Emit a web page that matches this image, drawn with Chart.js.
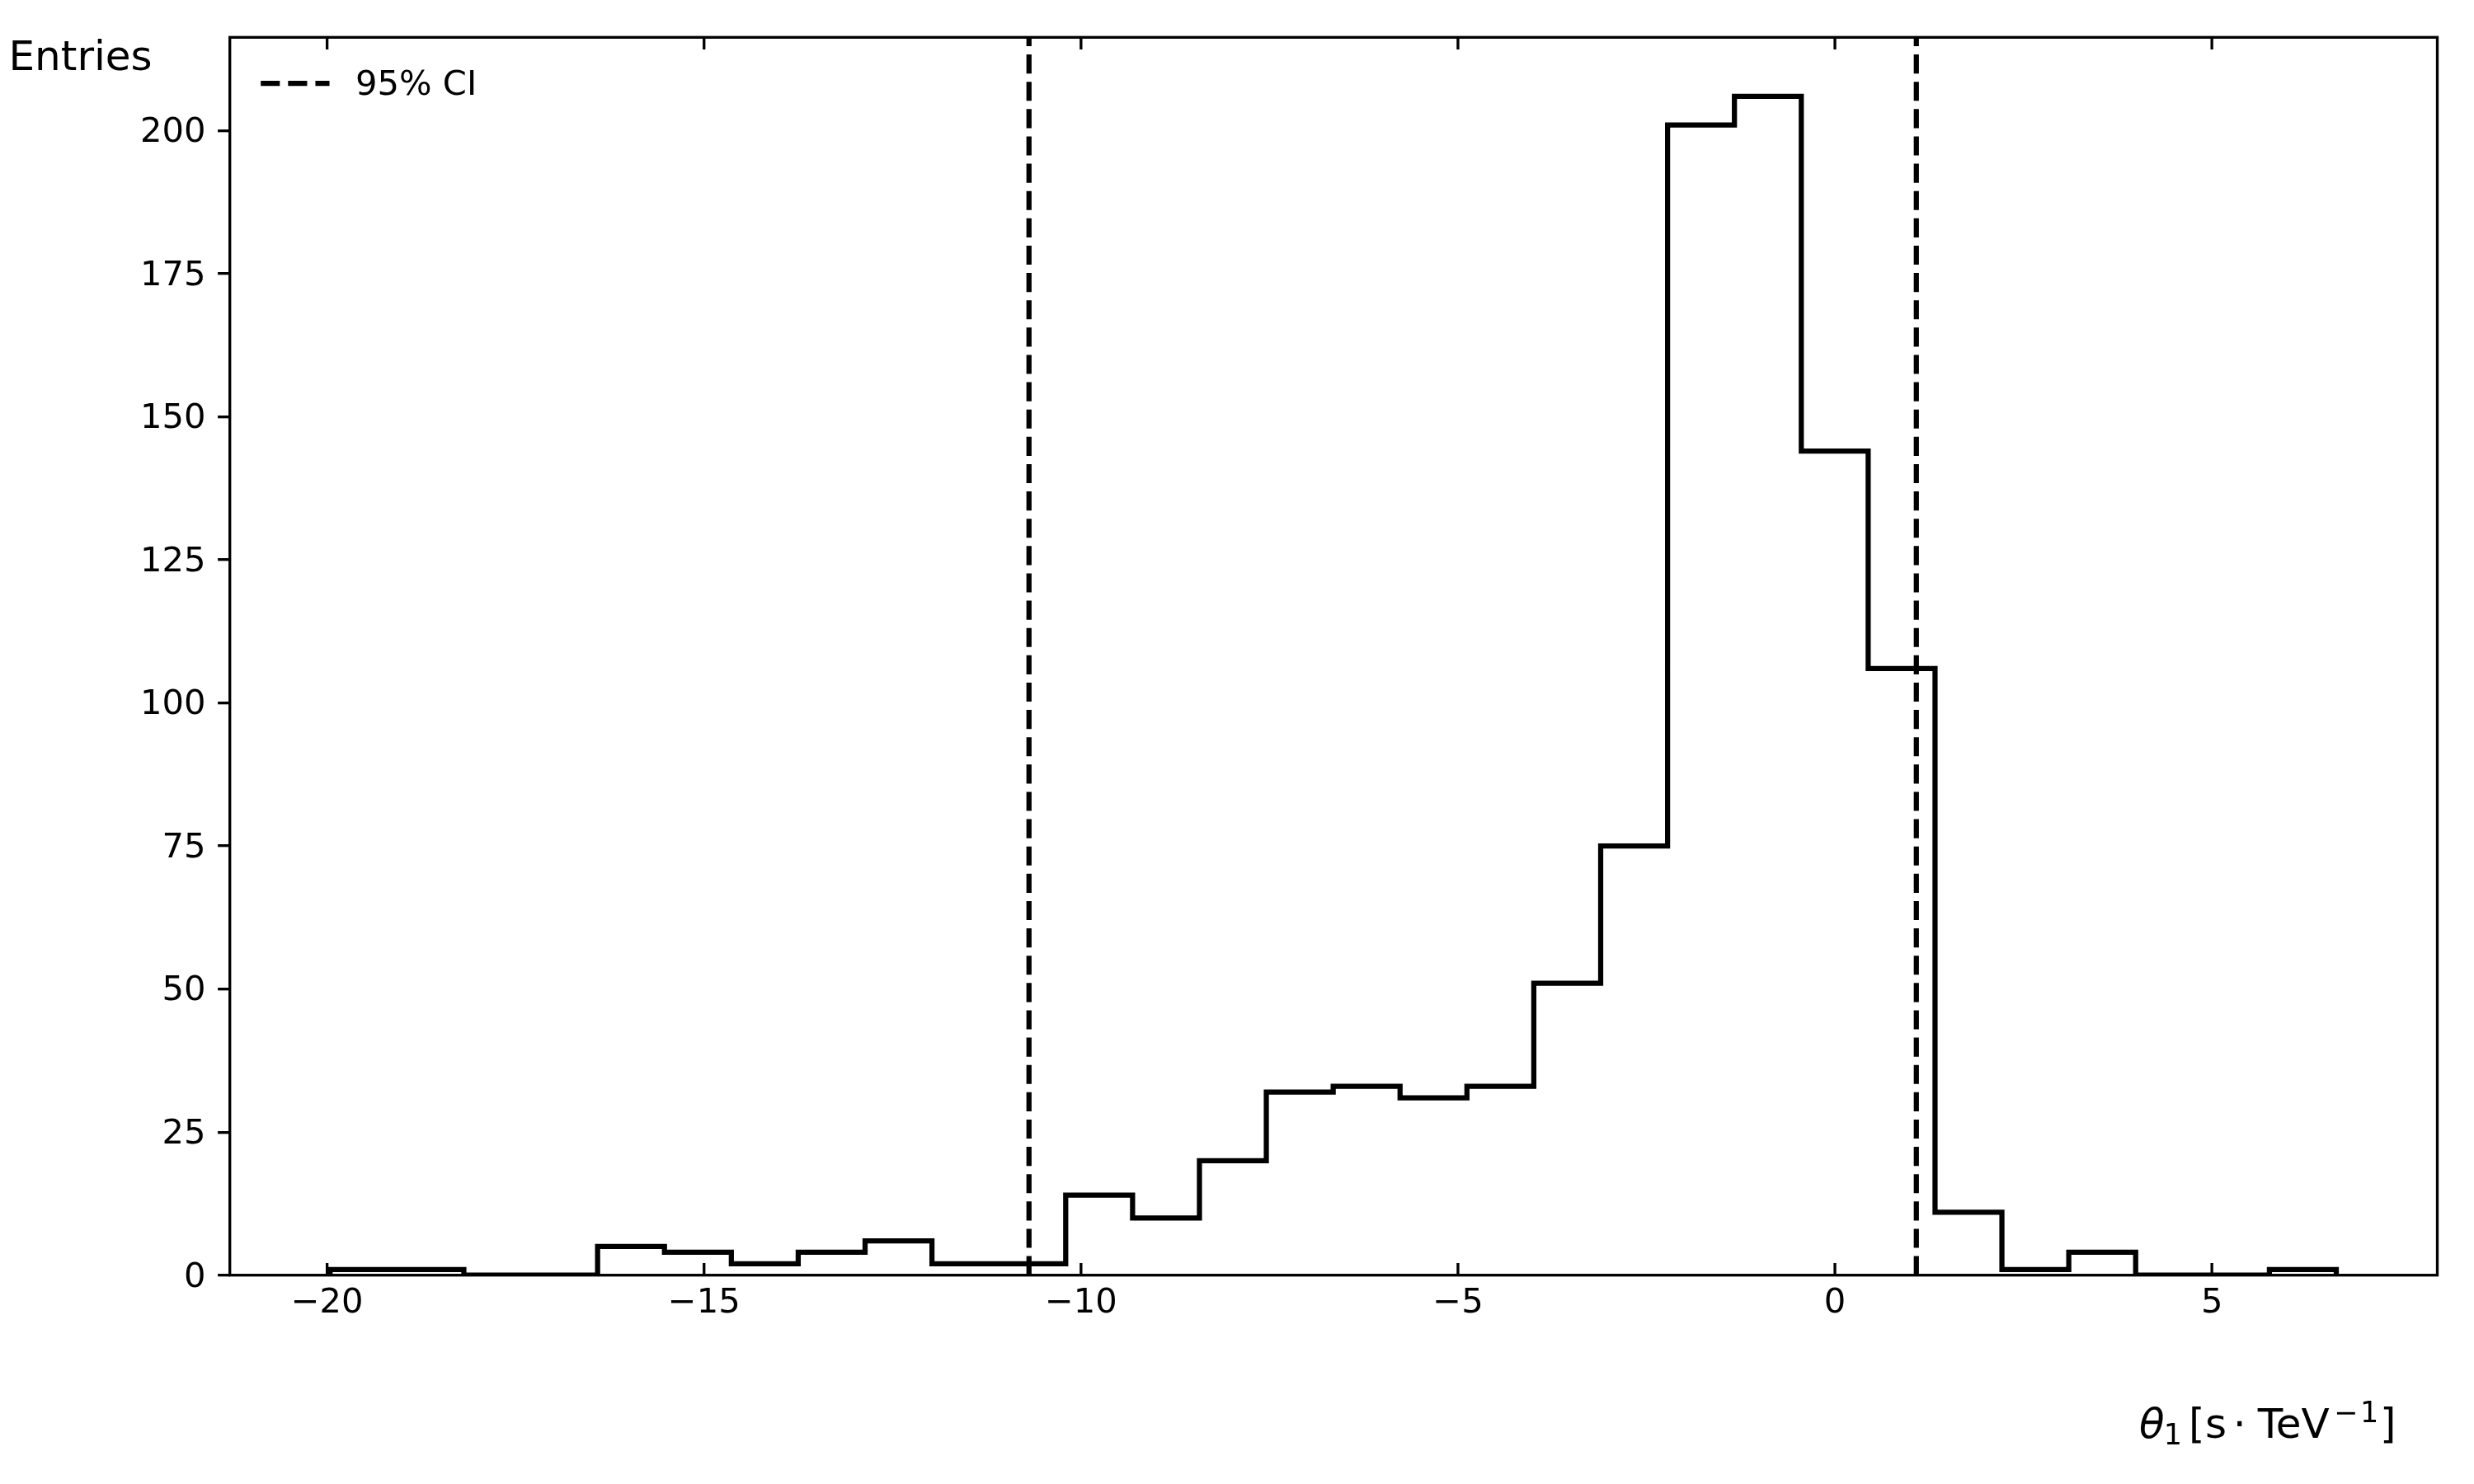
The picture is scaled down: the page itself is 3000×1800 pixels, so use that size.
<!DOCTYPE html>
<html>
<head>
<meta charset="utf-8">
<title>theta_1 histogram</title>
<script src="https://cdn.jsdelivr.net/npm/chart.js@4.4.1/dist/chart.umd.min.js"></script>
<style>
  html, body { margin: 0; padding: 0; background: #ffffff; }
  #wrap { width: 3000px; height: 1800px; position: relative; }
</style>
</head>
<body>
<div id="wrap"><canvas id="chart"></canvas></div>
<script>
// =============================================================================
// Data
// =============================================================================

// 31 bin edges -> 30 bins
const binEdges = [
  -19.960, -19.073, -18.186, -17.299, -16.412, -15.525, -14.638, -13.751,
  -12.864, -11.977, -11.090, -10.203, -9.316, -8.429, -7.542, -6.655,
  -5.768, -4.881, -3.994, -3.107, -2.220, -1.333, -0.446, 0.441,
  1.328, 2.215, 3.102, 3.989, 4.876, 5.763, 6.650,
];

// entries per bin
const binCounts = [
  1, 1, 0, 0, 5, 4, 2, 4, 6, 2,
  2, 14, 10, 20, 32, 33, 31, 33, 51, 75,
  201, 206, 144, 106, 11, 1, 4, 0, 0, 1,
];

// 95% credible interval bounds
const ciBounds = [-10.69, 1.08];

const xTickValues = [-20, -15, -10, -5, 0, 5];
const xTickLabels = ["\u221220", "\u221215", "\u221210", "\u22125", "0", "5"];
const yTickValues = [0, 25, 50, 75, 100, 125, 150, 175, 200];
const yTickLabels = ["0", "25", "50", "75", "100", "125", "150", "175", "200"];

const xLimits = [-21.29, 7.99];
const yLimits = [0, 216.3];

// =============================================================================
// Style
// =============================================================================

const PT = 300 / 72; // px per point
const FONT = "'DejaVu Sans'";
const TICK_SIZE = 10 * PT;
const LABEL_SIZE = 12 * PT;
const TICK_LEN = 3.5 * PT;
const TICK_WIDTH = 0.8 * PT;
const LINE_WIDTH = 1.5 * PT;
const DASH = [3.7 * LINE_WIDTH, 1.6 * LINE_WIDTH];

// step outline: up at the first edge, across each bin, down at the last edge
const histPoints = [{ x: binEdges[0], y: 0 }];
binCounts.forEach((c, i) => histPoints.push({ x: binEdges[i + 1], y: c }));
histPoints.push({ x: binEdges[binEdges.length - 1], y: 0 });

/** Draw text so that its ink starts at inkLeft */
function drawInk(ctx, text, font, inkLeft, baseline) {
  ctx.font = font;
  const m = ctx.measureText(text);
  ctx.fillText(text, inkLeft + m.actualBoundingBoxLeft, baseline);
}

const decorations = {
  id: "decorations",
  afterDraw(chart) {
    const ctx = chart.ctx;
    const { left, right, top, bottom } = chart.chartArea;
    const xs = chart.scales.x;
    ctx.save();
    ctx.strokeStyle = "#000";
    ctx.fillStyle = "#000";

    // inward x ticks, bottom and top
    ctx.lineWidth = TICK_WIDTH;
    ctx.lineCap = "butt";
    ctx.beginPath();
    xs.ticks.forEach((t) => {
      const px = xs.getPixelForValue(t.value);
      ctx.moveTo(px, bottom);
      ctx.lineTo(px, bottom - TICK_LEN);
      ctx.moveTo(px, top);
      ctx.lineTo(px, top + TICK_LEN);
    });
    ctx.stroke();

    // frame
    ctx.lineJoin = "miter";
    ctx.strokeRect(left, top, right - left, bottom - top);

    // legend
    const hx = left + 0.9 * TICK_SIZE;
    const hy = 101;
    ctx.lineWidth = LINE_WIDTH;
    ctx.setLineDash(DASH);
    ctx.beginPath();
    ctx.moveTo(hx, hy);
    ctx.lineTo(hx + 2 * TICK_SIZE, hy);
    ctx.stroke();
    ctx.setLineDash([]);
    ctx.textAlign = "left";
    ctx.textBaseline = "alphabetic";
    drawInk(ctx, chart.data.datasets[1].label, `${TICK_SIZE}px ${FONT}`, 433, 115);

    // y label
    drawInk(ctx, "Entries", `${LABEL_SIZE}px ${FONT}`, 14.5, 85);

    // x label: theta_1 [s . TeV^-1]
    const big = `${LABEL_SIZE}px ${FONT}`;
    const small = `${LABEL_SIZE * 0.7}px ${FONT}`;
    drawInk(ctx, "\u03b8", `italic ${LABEL_SIZE}px ${FONT}`, 2595, 1743.5);
    drawInk(ctx, "1", small, 2626.7, 1751.7);
    drawInk(ctx, "[", big, 2658, 1744);
    drawInk(ctx, "s", big, 2676, 1744);
    drawInk(ctx, "\u22c5", big, 2713, 1744);
    drawInk(ctx, "TeV", big, 2736.7, 1744);
    drawInk(ctx, "\u2212", small, 2833, 1725);
    drawInk(ctx, "1", small, 2865, 1725);
    drawInk(ctx, "]", big, 2890, 1744);

    ctx.restore();
  },
};

const ciDataset = (x, label) => ({
  label,
  data: [{ x, y: yLimits[0] }, { x, y: yLimits[1] }],
  borderColor: "#000",
  borderWidth: LINE_WIDTH,
  borderDash: DASH,
  borderCapStyle: "butt",
  pointRadius: 0,
  fill: false,
  clip: 0,
});

new Chart(document.getElementById("chart"), {
  type: "line",
  data: {
    datasets: [
      {
        label: "Entries",
        data: histPoints,
        stepped: "after",
        borderColor: "#000",
        borderWidth: LINE_WIDTH,
        borderJoinStyle: "miter",
        borderCapStyle: "butt",
        pointRadius: 0,
        fill: false,
        clip: 0,
      },
      ciDataset(ciBounds[0], "95% CI"),
      ciDataset(ciBounds[1], "95% CI"),
    ],
  },
  options: {
    responsive: true,
    maintainAspectRatio: false,
    devicePixelRatio: 1,
    animation: false,
    events: [],
    layout: { padding: { top: 45.3, right: 44.5, bottom: 0, left: 0 } },
    plugins: {
      legend: { display: false },
      tooltip: { enabled: false },
    },
    scales: {
      x: {
        type: "linear",
        min: xLimits[0],
        max: xLimits[1],
        afterBuildTicks: (s) => { s.ticks = xTickValues.map((v) => ({ value: v })); },
        afterFit: (s) => { s.height = 1800 - 1546.7; },
        grid: { display: false, drawTicks: false },
        border: { display: false },
        ticks: {
          padding: 9,
          color: "#000",
          font: { family: "DejaVu Sans", size: TICK_SIZE },
          maxRotation: 0,
          autoSkip: false,
          callback: (v) => xTickLabels[xTickValues.indexOf(v)],
        },
      },
      y: {
        type: "linear",
        min: yLimits[0],
        max: yLimits[1],
        afterBuildTicks: (s) => { s.ticks = yTickValues.map((v) => ({ value: v })); },
        afterFit: (s) => { s.width = 278.7; },
        grid: {
          display: true,
          drawOnChartArea: false,
          drawTicks: true,
          tickLength: TICK_LEN,
          lineWidth: TICK_WIDTH,
          color: "#000",
        },
        border: { display: false },
        ticks: {
          padding: 3.5 * PT,
          labelOffset: 3,
          color: "#000",
          font: { family: "DejaVu Sans", size: TICK_SIZE },
          autoSkip: false,
          callback: (v) => yTickLabels[yTickValues.indexOf(v)],
        },
      },
    },
  },
  plugins: [decorations],
});
</script>
</body>
</html>
